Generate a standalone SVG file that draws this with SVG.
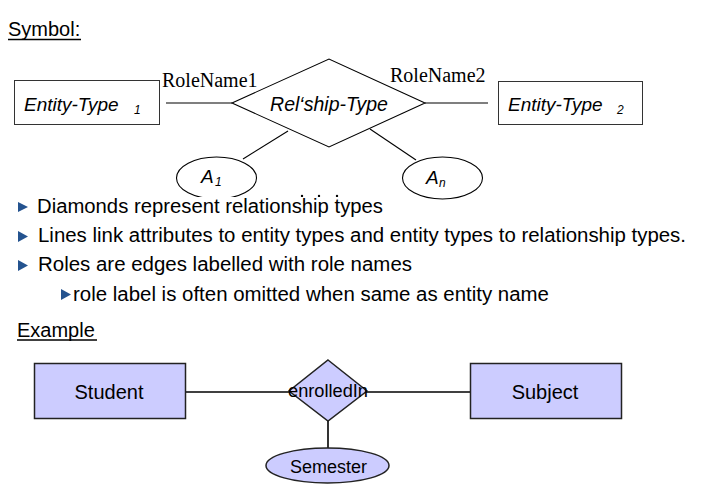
<svg xmlns="http://www.w3.org/2000/svg" width="718" height="497" viewBox="0 0 718 497">
<style>
.sans{font-family:"Liberation Sans",Arial,sans-serif;fill:#000}
.it{font-style:italic}
.serif{font-family:"Liberation Serif","Times New Roman",serif;fill:#000;font-size:20px}
.box{fill:#fff;stroke:#333;stroke-width:1}
.shape{fill:#fff;stroke:#000;stroke-width:1.1}
.ln{stroke:#000;stroke-width:1.1;fill:none}
.ex{fill:#ccccff;stroke:#222;stroke-width:1.5}
.exln{stroke:#000;stroke-width:1.6;fill:none}
.bul{fill:#24538f}
.bt{font-size:20px}
</style>
<rect width="718" height="497" fill="#fff"/>

<g id="title-symbol">
<text class="sans" x="8" y="36" font-size="20">Symbol:</text>
<line x1="8" y1="39.5" x2="81" y2="39.5" stroke="#000" stroke-width="1.3"/>
</g>

<g id="connectors">
<line class="ln" x1="166" y1="103" x2="232" y2="103"/>
<line class="ln" x1="425" y1="103" x2="488" y2="103"/>
<line class="ln" x1="243" y1="159" x2="288" y2="131"/>
<line class="ln" x1="370" y1="129" x2="416" y2="160"/>
</g>

<g id="entity1">
<rect class="box" x="14.5" y="80.5" width="145" height="44"/>
<text class="sans it" x="24" y="111" font-size="19">Entity-Type</text>
<text class="sans it" x="134" y="114" font-size="12">1</text>
</g>

<g id="relationship">
<polygon class="shape" points="232,103 329,59 425,103 329,147"/>
<text class="sans it" x="329" y="111" font-size="19.5" text-anchor="middle">Rel‘ship-Type</text>
</g>

<g id="entity2">
<rect class="box" x="498.5" y="81.5" width="144" height="43"/>
<text class="sans it" x="508" y="111" font-size="19">Entity-Type</text>
<text class="sans it" x="617" y="114" font-size="12">2</text>
</g>

<g id="role1"><text class="serif" x="162" y="87">RoleName1</text></g>
<g id="role2"><text class="serif" x="390" y="82">RoleName2</text></g>

<g id="attrA1">
<ellipse class="shape" cx="216.5" cy="178" rx="40" ry="21"/>
<text class="sans it" x="201" y="183" font-size="19">A</text>
<text class="sans it" x="215" y="186" font-size="12">1</text>
</g>

<g id="attrAn">
<ellipse class="shape" cx="442.5" cy="178" rx="40" ry="21"/>
<text class="sans it" x="426" y="184" font-size="19">A</text>
<text class="sans it" x="439" y="187" font-size="12">n</text>
</g>

<g id="ellipsis-dots">
<circle cx="302" cy="196" r="1.2" fill="#000"/>
<circle cx="319" cy="196" r="1.2" fill="#000"/>
<circle cx="337" cy="196" r="1.2" fill="#000"/>
</g>

<rect x="30" y="197" width="362" height="24" fill="#fff"/>

<g id="bullets">
<polygon class="bul" points="18,202 28,207 18,212"/>
<text class="sans bt" x="37" y="213" textLength="346" lengthAdjust="spacingAndGlyphs">Diamonds represent relationship types</text>
<polygon class="bul" points="18,231 28,236.5 18,242"/>
<text class="sans bt" x="38" y="242" textLength="648" lengthAdjust="spacingAndGlyphs">Lines link attributes to entity types and entity types to relationship types.</text>
<polygon class="bul" points="18,260 28,265.5 18,271"/>
<text class="sans bt" x="38" y="271" textLength="374" lengthAdjust="spacingAndGlyphs">Roles are edges labelled with role names</text>
<polygon class="bul" points="61,289 71,294.5 61,300"/>
<text class="sans bt" x="73" y="301" textLength="476" lengthAdjust="spacingAndGlyphs">role label is often omitted when same as entity name</text>
</g>

<g id="title-example">
<text class="sans" x="17" y="337" font-size="20">Example</text>
<line x1="17" y1="340" x2="97" y2="340" stroke="#000" stroke-width="1.3"/>
</g>

<g id="ex-connectors">
<line class="exln" x1="185" y1="392" x2="290" y2="392"/>
<line class="exln" x1="366" y1="392" x2="470" y2="392"/>
<line class="exln" x1="328" y1="421" x2="328" y2="448"/>
</g>

<g id="student">
<rect class="ex" x="34.5" y="363.5" width="151" height="55"/>
<text class="sans" x="109" y="399" font-size="20" text-anchor="middle">Student</text>
</g>

<g id="subject">
<rect class="ex" x="470.5" y="363.5" width="151" height="55"/>
<text class="sans" x="545" y="399" font-size="20" text-anchor="middle">Subject</text>
</g>

<g id="enrolledIn">
<polygon class="ex" points="328,360 367,391 328,421 289,391"/>
<text class="sans" x="328" y="397" font-size="18" text-anchor="middle" textLength="80" lengthAdjust="spacingAndGlyphs">enrolledIn</text>
</g>

<g id="semester">
<ellipse class="ex" cx="327.5" cy="465.5" rx="61.5" ry="17.5"/>
<text class="sans" x="328.5" y="472.5" font-size="18" text-anchor="middle">Semester</text>
</g>
</svg>
